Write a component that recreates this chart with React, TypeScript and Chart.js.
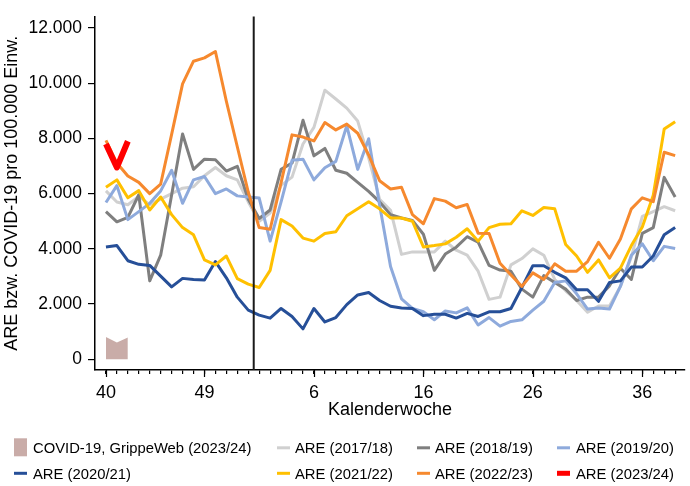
import React, { useEffect, useRef } from 'react';
import { Chart, registerables } from 'chart.js';

Chart.register(...registerables);

// Calendar weeks of the season (index 0 = week 40 ... index 52 = week 39)
const weeks = [40, 41, 42, 43, 44, 45, 46, 47, 48, 49, 50, 51, 52, 53,
  1, 2, 3, 4, 5, 6, 7, 8, 9, 10, 11, 12, 13, 14, 15, 16, 17, 18, 19, 20,
  21, 22, 23, 24, 25, 26, 27, 28, 29, 30, 31, 32, 33, 34, 35, 36, 37, 38, 39];
const labeledWeeks = [40, 49, 6, 16, 26, 36];
const yTickValues = [0, 2000, 4000, 6000, 8000, 10000, 12000];

const covid2324 = [810, 610, 790];

const are1718 = [6100, 5700, 5600, 5900, 5600, 5800, 6000, 6200, 6250, 6650, 6950, 6650, 6500, 5700,
  5000, 5300, 6300, 6600, 7800, 8400, 9750, 9430, 9100, 8630, 7300, 5800, 5400, 3800, 3890, 3890,
  3890, 4280, 3950, 3770, 3190, 2170, 2250, 3420, 3650, 4000, 3770, 2890, 2480, 2130, 1700, 1930,
  1930, 2640, 3710, 5180, 5350, 5530, 5380];

const are1819 = [5350, 4980, 5140, 5960, 2840, 3770, 5950, 8160, 6880, 7250, 7230, 6820, 6990, 5800,
  5100, 5410, 6880, 7110, 8660, 7370, 7640, 6850, 6740, 6410, 6080, 5700, 5240, 5120, 5030, 4530,
  3220, 3810, 4060, 4440, 4240, 3400, 3230, 3190, 2540, 2250, 3030, 2780, 2540, 2130, 2250, 2250,
  2660, 3300, 2890, 4560, 4770, 6590, 5880];

const are1920 = [5680, 6290, 5060, 5350, 5650, 6100, 6850, 5650, 6500, 6620, 6000, 6170, 5920, 5880,
  5840, 4280, 5700, 7210, 7250, 6500, 6940, 7170, 8460, 6880, 7990, 5590, 3360, 2190, 1840, 1720,
  1430, 1750, 1680, 1860, 1240, 1510, 1200, 1370, 1430, 1780, 2100, 2780, 2840, 2370, 1820, 1860,
  1820, 2640, 3770, 4180, 3570, 4090, 4010];

const are2021 = [4070, 4120, 3570, 3440, 3400, 3010, 2620, 2930, 2890, 2870, 3540, 2950, 2250, 1780,
  1600, 1490, 1840, 1550, 1100, 1840, 1350, 1510, 1980, 2330, 2420, 2130, 1920, 1860, 1840, 1580,
  1630, 1630, 1490, 1660, 1550, 1720, 1720, 1840, 2600, 3390, 3390, 3150, 2950, 2520, 2520, 2100,
  2780, 2840, 3340, 3340, 3740, 4510, 4770];

const are2122 = [6230, 6500, 5850, 6110, 5410, 5880, 5240, 4770, 4510, 3600, 3420, 3740, 2920, 2720,
  2600, 3220, 5060, 4830, 4390, 4280, 4560, 4620, 5200, 5450, 5710, 5450, 5120, 5120, 5000, 4070,
  4120, 4180, 4420, 4730, 4280, 4770, 4890, 4910, 5380, 5210, 5500, 5450, 4160, 3740, 3150, 3600,
  2950, 3300, 4120, 4790, 5940, 8340, 8610];

const are2223 = [7930, 7110, 6640, 6410, 6000, 6350, 8150, 9980, 10800, 10920, 11150, 9350, 7700, 6060,
  4770, 4710, 6400, 8130, 8050, 7910, 8580, 8310, 8520, 8190, 7400, 6470, 6170, 6230, 5240, 4910,
  5820, 5730, 5490, 5610, 4570, 4560, 3480, 3050, 2640, 3130, 2890, 3460, 3190, 3190, 3540, 4240,
  3660, 4360, 5450, 5850, 5710, 7500, 7380];

const are2324 = [7800, 6950, 7900];

const seasonStartIndex = 13.5; // between week 53 and week 1

const FONT = '"Liberation Sans", Arial, Helvetica, sans-serif';

type Series = { label: string; values: number[]; color: string; width: number; kind: 'line' | 'area' };

const series: Series[] = [
  { label: 'COVID-19, GrippeWeb (2023/24)', values: covid2324, color: '#c9aca8', width: 0, kind: 'area' },
  { label: 'ARE (2017/18)', values: are1718, color: '#d0d0d0', width: 3, kind: 'line' },
  { label: 'ARE (2018/19)', values: are1819, color: '#7f7f7f', width: 3, kind: 'line' },
  { label: 'ARE (2019/20)', values: are1920, color: '#8eaadc', width: 3, kind: 'line' },
  { label: 'ARE (2020/21)', values: are2021, color: '#264f98', width: 3, kind: 'line' },
  { label: 'ARE (2021/22)', values: are2122, color: '#ffc000', width: 3, kind: 'line' },
  { label: 'ARE (2022/23)', values: are2223, color: '#f6892e', width: 3, kind: 'line' },
  { label: 'ARE (2023/24)', values: are2324, color: '#ff0000', width: 6, kind: 'line' },
];

// legend grid: order row by row
const legendOrder = [0, 1, 2, 3, 4, 5, 6, 7];

function fmt(v: number): string {
  return String(v).replace(/\B(?=(\d{3})+(?!\d))/g, '.');
}

const extrasPlugin = {
  id: 'extras',
  afterDatasetsDraw(chart: any) {
    const { ctx, chartArea, scales } = chart;
    const x = scales.x.getPixelForValue(seasonStartIndex);
    ctx.save();
    ctx.strokeStyle = '#1a1a1a';
    ctx.lineWidth = 2;
    ctx.beginPath();
    ctx.moveTo(x, chartArea.top);
    ctx.lineTo(x, chartArea.bottom);
    ctx.stroke();
    ctx.restore();
  },
  afterDraw(chart: any) {
    const { ctx, chartArea, scales } = chart;
    ctx.save();
    // longer major ticks
    ctx.strokeStyle = '#000';
    ctx.lineWidth = 1.2;
    labeledWeeks.forEach((w) => {
      const idx = weeks.indexOf(w);
      const px = Math.round(scales.x.getPixelForValue(idx)) + 0.5;
      ctx.beginPath();
      ctx.moveTo(px, chartArea.bottom);
      ctx.lineTo(px, chartArea.bottom + 7);
      ctx.stroke();
    });
    // legend
    const markerX = [14, 277, 417, 557];
    const textX = [33, 295, 435, 576];
    const rowCenter = [447.8, 473.3];
    ctx.font = `14.8px ${FONT}`;
    ctx.textBaseline = 'alphabetic';
    ctx.textAlign = 'left';
    legendOrder.forEach((si, k) => {
      const s = series[si];
      const col = k % 4;
      const row = Math.floor(k / 4);
      const cy = rowCenter[row];
      if (s.kind === 'area') {
        ctx.fillStyle = s.color;
        ctx.fillRect(markerX[col], cy - 9.5, 13, 18);
      } else {
        ctx.fillStyle = s.color;
        const th = s.width > 4 ? 5 : 3;
        ctx.fillRect(markerX[col], cy - th / 2, 13, th);
      }
      ctx.fillStyle = '#000';
      ctx.fillText(s.label, textX[col], cy + 5.3);
    });
    ctx.restore();
  },
};

export default function App() {
  const ref = useRef<HTMLCanvasElement | null>(null);
  useEffect(() => {
    if (!ref.current) return;
    const datasets = series
      .map((s, i) => ({
        label: s.label,
        data: s.values.map((v, j) => ({ x: j, y: v })),
        borderColor: s.color,
        backgroundColor: s.color,
        borderWidth: s.width,
        pointRadius: 0,
        tension: 0,
        fill: s.kind === 'area' ? 'origin' : false,
        borderJoinStyle: 'round' as const,
        borderCapStyle: 'butt' as const,
        order: series.length - i,
      }));
    const chart = new Chart(ref.current, {
      type: 'line',
      data: { datasets },
      plugins: [extrasPlugin],
      options: {
        animation: false,
        responsive: false,
        devicePixelRatio: 1,
        layout: { padding: { top: 7, right: 5, left: 0, bottom: 0 } },
        plugins: { legend: { display: false }, tooltip: { enabled: false } },
        scales: {
          x: {
            type: 'linear',
            min: -1,
            max: 52.9,
            afterFit: (s: any) => { s.height = 116; },
            afterBuildTicks: (s: any) => { s.ticks = weeks.map((_, i) => ({ value: i })); },
            grid: { display: true, drawOnChartArea: false, drawTicks: true, tickLength: 4, color: '#000', lineWidth: 1.2 },
            border: { display: true, color: '#000', width: 1.5 },
            ticks: {
              autoSkip: false,
              maxRotation: 0,
              padding: 8,
              color: '#000',
              font: { family: FONT, size: 18 },
              callback: (v: any) => {
                const w = weeks[Number(v)];
                return labeledWeeks.includes(w) ? String(w) : '';
              },
            },
            title: {
              display: true,
              text: 'Kalenderwoche',
              color: '#000',
              font: { family: FONT, size: 18 },
              padding: { top: 0, bottom: 65.5 },
            },
          },
          y: {
            type: 'linear',
            min: -390,
            max: 12420,
            afterFit: (s: any) => { s.width = 95; },
            afterBuildTicks: (s: any) => { s.ticks = yTickValues.map((v) => ({ value: v })); },
            grid: { display: true, drawOnChartArea: false, drawTicks: true, tickLength: 7, color: '#000', lineWidth: 1.2 },
            border: { display: true, color: '#000', width: 1.5 },
            ticks: {
              padding: 6,
              color: '#000',
              font: { family: FONT, size: 17.5 },
              callback: (v: any) => fmt(Number(v)),
            },
            title: {
              display: true,
              text: 'ARE bzw. COVID-19 pro 100.000 Einw.',
              color: '#000',
              font: { family: FONT, size: 18 },
              padding: { top: 1.5, bottom: 0 },
            },
          },
        },
      },
    });
    return () => chart.destroy();
  }, []);
  return (
    <div style={{ position: 'absolute', left: 0, top: 0, width: 690, height: 486, background: '#fff' }}>
      <canvas ref={ref} width={690} height={486} style={{ display: 'block', width: 690, height: 486 }} />
    </div>
  );
}
